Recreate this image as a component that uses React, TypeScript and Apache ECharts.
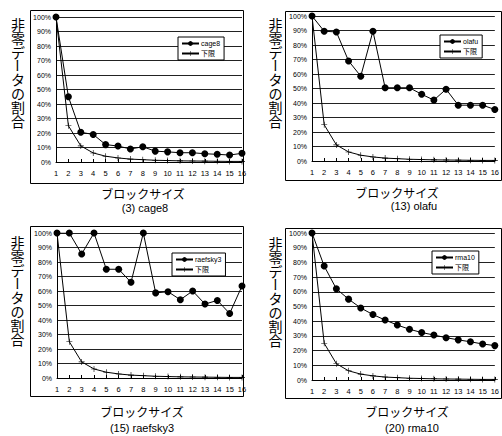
import React, { useEffect, useRef } from "react";
import * as echarts from "echarts";

const blockSizes = ["1","2","3","4","5","6","7","8","9","10","11","12","13","14","15","16"];
const lowerBound = [100, 25, 11.1, 6.25, 4, 2.8, 2, 1.6, 1.2, 1, 0.8, 0.7, 0.6, 0.5, 0.4, 0.4];
const cage8 = [100, 45, 20.5, 19, 12, 11, 9, 10.5, 7.5, 7, 6.4, 6.4, 5.7, 5.3, 4.8, 6];
const olafu = [100, 89.5, 89, 69, 58.5, 89.5, 50.5, 50.5, 50.5, 46, 42, 49.5, 38.5, 38.5, 38.5, 35.5];
const raefsky3 = [100, 100, 85.5, 100, 75, 75, 66, 100, 58.7, 59.5, 54, 60, 51, 53.5, 44.5, 63.5];
const rma10 = [100, 77.5, 62, 55, 49, 44.5, 40.8, 37.4, 34.5, 32.3, 30.6, 28.8, 27.3, 26, 24.5, 23.4];
const lowerName = "下限";
const yTitle = "非零データの割合";
const xTitle = "ブロックサイズ";

const panels = [
  { name: "cage8", caption: "(3) cage8", data: cage8 },
  { name: "olafu", caption: "(13) olafu", data: olafu },
  { name: "raefsky3", caption: "(15) raefsky3", data: raefsky3 },
  { name: "rma10", caption: "(20) rma10", data: rma10 },
];

// layout per panel
const layout = [
  { grid: { left: 56, top: 17, width: 186, height: 145 }, frame: [30, 10, 213, 173], legend: [178, 37], yl: [18, 24], t1: [143, 193], t2: [145, 208] },
  { grid: { left: 312, top: 16, width: 185, height: 145 }, frame: [285, 11, 216, 169], legend: [440, 35], yl: [275.5, 24], t1: [397, 192], t2: [414, 206] },
  { grid: { left: 57, top: 233, width: 185, height: 145 }, frame: [30, 226, 213, 170], legend: [172, 253], yl: [17.5, 242], t1: [142, 411], t2: [142, 428] },
  { grid: { left: 312, top: 233, width: 185, height: 147 }, frame: [285, 228, 216, 170], legend: [432, 251], yl: [275.5, 243], t1: [407, 411], t2: [412, 428] },
];

const FONT = "'Liberation Sans', Arial, 'Noto Sans CJK JP', sans-serif";
const CJK = "'Noto Sans CJK JP', sans-serif";
const PLUS = "path://M4.5,0h1v4.5h4.5v1h-4.5v4.5h-1v-4.5h-4.5v-1h4.5z";
const CHAR_STEP = 13.8;

export default function App() {
  const ref = useRef<HTMLDivElement>(null);
  useEffect(() => {
    if (!ref.current) return;
    const chart = echarts.init(ref.current, undefined, { renderer: "svg" });

    const grids: any[] = [];
    const xAxes: any[] = [];
    const yAxes: any[] = [];
    const series: any[] = [];
    const legends: any[] = [];
    const graphics: any[] = [];

    panels.forEach((p, i) => {
      const L = layout[i];
      grids.push({ ...L.grid, containLabel: false });
      xAxes.push({
        type: "category",
        gridIndex: i,
        data: blockSizes,
        boundaryGap: false,
        axisLine: { lineStyle: { color: "#000", width: 1 } },
        axisTick: { show: true, length: 3, inside: true, lineStyle: { color: "#000" } },
        axisLabel: { fontSize: 7.5, color: "#000", margin: 8, fontFamily: FONT, interval: 0 },
        splitLine: { show: false },
      });
      yAxes.push({
        type: "value",
        gridIndex: i,
        min: 0,
        max: 100,
        interval: 10,
        axisLine: { show: true, lineStyle: { color: "#000", width: 1 } },
        axisTick: { show: false },
        axisLabel: { fontSize: 7, color: "#000", margin: 5, fontFamily: FONT, formatter: "{value}%" },
        splitLine: { show: true, lineStyle: { color: "#222", width: 1 } },
      });
      series.push({
        type: "line",
        name: p.name,
        xAxisIndex: i,
        yAxisIndex: i,
        data: p.data,
        symbol: "circle",
        symbolSize: 7,
        itemStyle: { color: "#000" },
        lineStyle: { color: "#000", width: 1 },
        z: 3,
      });
      series.push({
        type: "line",
        name: lowerName,
        xAxisIndex: i,
        yAxisIndex: i,
        data: lowerBound,
        symbol: PLUS,
        symbolSize: 6,
        itemStyle: { color: "#000" },
        lineStyle: { color: "#000", width: 1 },
        z: 2,
      });
      legends.push({
        data: [p.name, lowerName],
        orient: "vertical",
        left: L.legend[0],
        top: L.legend[1],
        itemWidth: 17,
        itemHeight: 6,
        itemGap: 3,
        padding: [3, 4, 3, 3],
        borderColor: "#000",
        borderWidth: 1,
        backgroundColor: "#fff",
        textStyle: { fontSize: 7, color: "#000", fontFamily: FONT, padding: [0, 0, 0, -3] },
        selectedMode: false,
      });
      graphics.push({
        type: "rect",
        shape: { x: L.frame[0] + 0.5, y: L.frame[1] + 0.5, width: L.frame[2], height: L.frame[3] },
        style: { fill: "none", stroke: "#000", lineWidth: 1 },
        silent: true,
        z: -1,
      });
      Array.from(yTitle).forEach((ch, k) => {
        const isBar = ch === "ー";
        graphics.push({
          type: "text",
          x: L.yl[0],
          y: L.yl[1] + k * CHAR_STEP,
          rotation: isBar ? -Math.PI / 2 : 0,
          style: {
            text: ch,
            fontSize: 14,
            lineHeight: 14,
            fontFamily: CJK,
            fill: "#000",
            align: "center",
            verticalAlign: "middle",
          },
        });
      });
      graphics.push({
        type: "text",
        x: L.t1[0],
        y: L.t1[1],
        style: { text: xTitle, fontSize: 12, fontFamily: CJK, fill: "#000", align: "center", verticalAlign: "middle" },
      });
      graphics.push({
        type: "text",
        x: L.t2[0],
        y: L.t2[1],
        style: { text: p.caption, fontSize: 11, fontFamily: FONT, fill: "#000", align: "center", verticalAlign: "middle" },
      });
    });

    chart.setOption({
      animation: false,
      backgroundColor: "#fff",
      grid: grids,
      xAxis: xAxes,
      yAxis: yAxes,
      series,
      legend: legends,
      graphic: graphics,
    });
    return () => chart.dispose();
  }, []);
  return <div ref={ref} style={{ width: 502, height: 436, position: "absolute", left: 0, top: 0 }} />;
}
